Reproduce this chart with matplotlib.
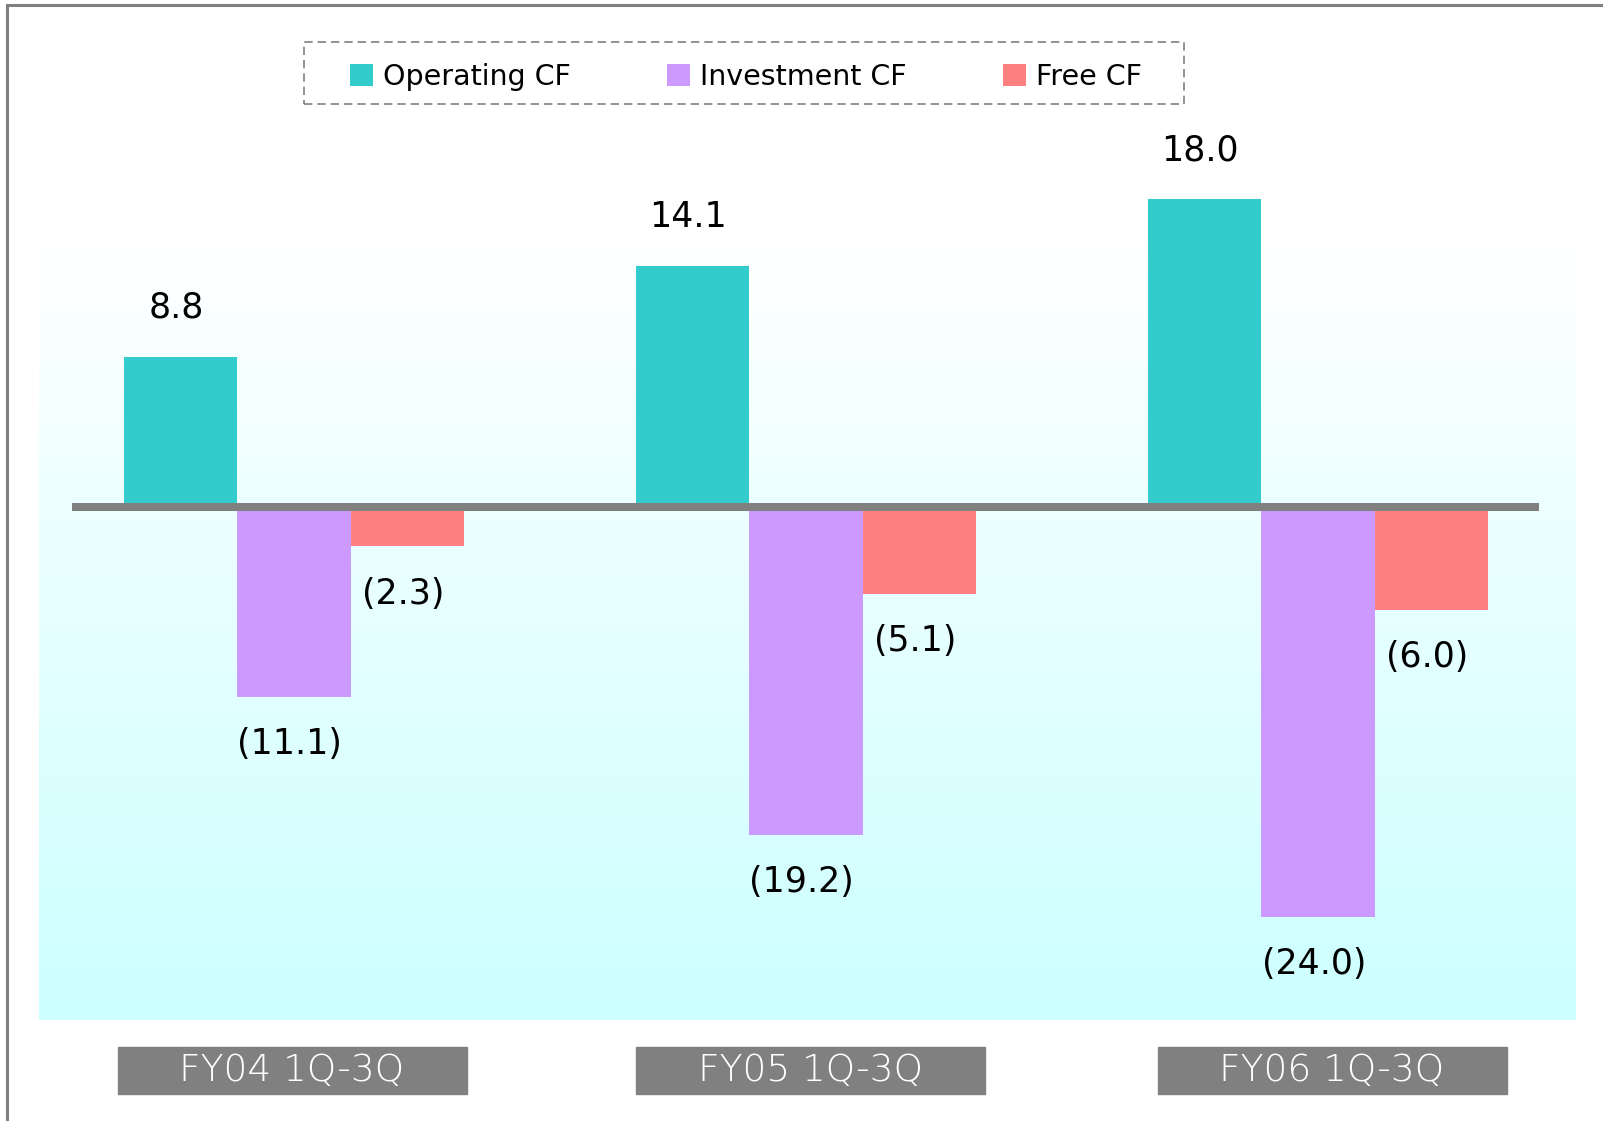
import numpy as np
import matplotlib
matplotlib.use("Agg")
import matplotlib.pyplot as plt
import matplotlib.transforms as mtransforms
from matplotlib.colors import LinearSegmentedColormap
from matplotlib.patches import Rectangle
from matplotlib.lines import Line2D

# data
periods = ["FY04 1Q-3Q", "FY05 1Q-3Q", "FY06 1Q-3Q"]
series_names = ["Operating CF", "Investment CF", "Free CF"]
operating_cf = [8.8, 14.1, 18.0]
investment_cf = [-11.1, -19.2, -24.0]
free_cf = [-2.3, -5.1, -6.0]

colors = ["#33CCCC", "#CC99FF", "#FF8080"]
gray = "#808080"

W, H = 1603, 1121
ZERO_Y = 507.0        # pixel row of the zero line
PX_PER_UNIT = 17.09   # pixels per unit on the value axis
GROUP_X0 = 294.0      # pixel column of first group centre
GROUP_STEP = 512.0    # pixels between group centres


def fmt(v):
    return f"({abs(v):.1f})" if v < 0 else f"{v:.1f}"


fig = plt.figure(figsize=(W / 100, H / 100), dpi=100)
ax = fig.add_axes([0, 0, 1, 1])
ax.set_xlim(-GROUP_X0 / GROUP_STEP, (W - GROUP_X0) / GROUP_STEP)
ax.set_ylim(-(H - ZERO_Y) / PX_PER_UNIT, ZERO_Y / PX_PER_UNIT)
ax.axis("off")

# gradient background
cmap = LinearSegmentedColormap.from_list("bg", ["#FFFFFF", "#CCFFFF"])
grad = np.linspace(0, 1, 256).reshape(-1, 1)
ax.imshow(grad, cmap=cmap, aspect="auto", origin="upper", zorder=0,
          extent=[(39 - GROUP_X0) / GROUP_STEP, (1576 - GROUP_X0) / GROUP_STEP,
                  -(1020 - ZERO_Y) / PX_PER_UNIT, (ZERO_Y - 240) / PX_PER_UNIT])

# bars
bw = 113.5 / GROUP_STEP
x = np.arange(len(periods))
all_series = [operating_cf, investment_cf, free_cf]
for k, (vals, name, c) in enumerate(zip(all_series, series_names, colors)):
    xs = x + (k - 1) * bw
    bars = ax.bar(xs, vals, width=bw, color=c, label=name, zorder=2)
    for b, v in zip(bars, vals):
        off = 35 if v >= 0 else -34
        ax.annotate(fmt(v), (b.get_x() + b.get_width() / 2, v),
                    xytext=(-3, off), textcoords="offset points",
                    ha="center", va="center", fontsize=25, zorder=4)

# zero line
ax.plot([(71.6 - GROUP_X0) / GROUP_STEP, (1538.6 - GROUP_X0) / GROUP_STEP], [0, 0],
        color=gray, lw=5.8, solid_capstyle="butt", zorder=3)

# category boxes
trans = mtransforms.blended_transform_factory(ax.transData, fig.transFigure)
box_w = 349 / GROUP_STEP
box_off = [-2, 4, 14]
for i, p in enumerate(periods):
    cx = i + box_off[i] / GROUP_STEP
    ax.add_patch(Rectangle((cx - box_w / 2, (H - 1094) / H), box_w, 47 / H,
                           transform=trans, color=gray, clip_on=False, zorder=2))
    ax.text(cx, (H - 1071) / H, p, transform=trans, ha="center", va="center",
            color="white", fontsize=27, fontweight="light", zorder=3)

# legend (dashed box drawn separately)
leg = ax.legend(loc="center", bbox_to_anchor=(746 / W, (H - 77) / H),
                bbox_transform=fig.transFigure, ncol=3, fontsize=20.5,
                handlelength=0.8, handleheight=0.8, handletextpad=0.35,
                columnspacing=3.4, frameon=False)
fig.add_artist(Rectangle((304 / W, (H - 104) / H), 880 / W, 62 / H,
                         transform=fig.transFigure, facecolor="none",
                         edgecolor=gray, lw=1.2, linestyle=(0, (5, 3))))

# outer frame (top and left edges)
fig.add_artist(Line2D([7 / W, 1], [(H - 5) / H] * 2, color=gray, lw=2.2,
                      transform=fig.transFigure))
fig.add_artist(Line2D([7 / W] * 2, [0, (H - 5) / H], color=gray, lw=2.2,
                      transform=fig.transFigure))

fig.savefig("out.png", dpi=100)
